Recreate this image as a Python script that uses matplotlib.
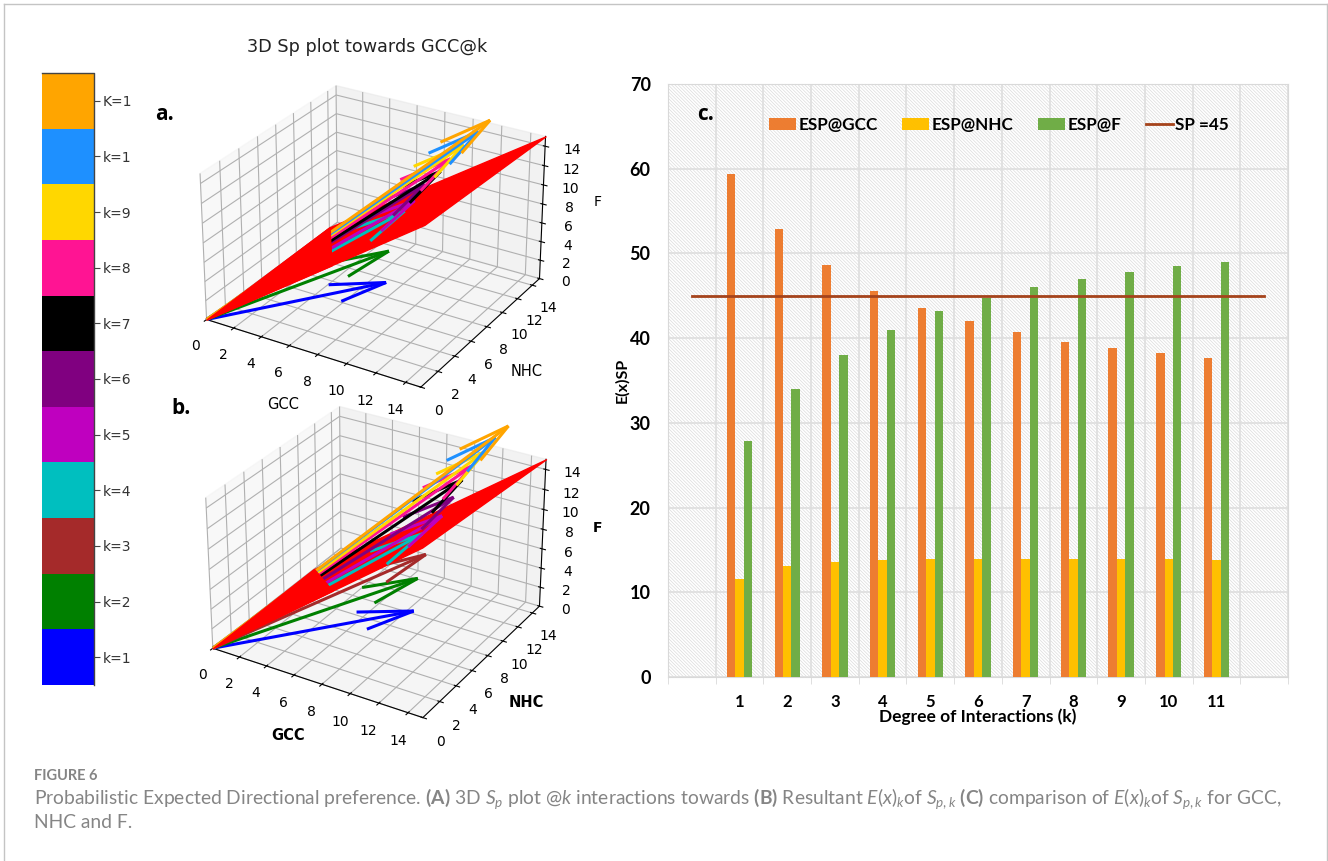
import numpy as np
import matplotlib
matplotlib.use('Agg')
import matplotlib.pyplot as plt
from matplotlib.colors import ListedColormap, BoundaryNorm
from matplotlib.cm import ScalarMappable
from matplotlib.lines import Line2D
from matplotlib.patches import Rectangle
from mpl_toolkits.mplot3d import art3d

W, H = 1328, 861

k_labels = ['k=1', 'k=2', 'k=3', 'k=4', 'k=5', 'k=6', 'k=7', 'k=8', 'k=9', 'k=1', 'K=1']
k_colors = ['blue', 'green', 'brown', 'c', 'm', 'purple', 'black', 'deeppink', 'gold', 'dodgerblue', 'orange']

# panel a, arrow tips for k=1..11
gcc_a = [10.0, 9.0, 9.0, 9.2, 9.6, 10.0, 10.8, 11.2, 11.8, 12.5, 13.0]
nhc_a = [4.5, 6.5, 7.5, 8.0, 8.5, 9.0, 9.5, 10.0, 10.5, 11.0, 11.5]
f_a = [5.0, 6.4, 9.0, 9.6, 10.5, 12.0, 13.3, 14.4, 15.7, 17.0, 18.0]
plane_a = [(0, 0, 0), (12, 5.5, 11), (15, 15, 15), (3.2, 9.0, 4.8)]
near_a = [(0, 0, 0), (7, 3.2, 6.4), (3.2, 9.0, 4.8)]

# panel b
gcc_b = [11.1, 10.1, 10.2, 9.7, 10.8, 11.3, 11.6, 12.0, 12.6, 13.0, 13.6]
nhc_b = [5.6, 7.8, 8.6, 9.0, 9.5, 10.0, 10.5, 11.0, 11.5, 12.0, 12.5]
f_b = [4.6, 5.9, 7.8, 9.4, 11.3, 13.0, 14.5, 15.7, 17.0, 18.2, 19.2]
plane_b = [(0, 0, 0), (11.7, 5.5, 11.2), (15, 15, 15), (2.3, 8.1, 3.4)]
near_b = [(0, 0, 0), (6.8, 3.2, 6.5), (2.3, 8.1, 3.4)]

# panel c
degree = [1, 2, 3, 4, 5, 6, 7, 8, 9, 10, 11]
esp_gcc = [59.4, 52.9, 48.6, 45.6, 43.5, 42.0, 40.7, 39.6, 38.8, 38.2, 37.6]
esp_nhc = [11.6, 13.1, 13.6, 13.8, 13.9, 13.9, 13.9, 13.9, 13.9, 13.9, 13.8]
esp_f = [27.9, 34.0, 38.0, 41.0, 43.2, 44.7, 46.0, 47.0, 47.8, 48.5, 49.0]
sp_x = list(range(13))
sp_line = [45] * 13


def rect(x0, y0, x1, y1):
    # pixel box to figure fractions, y from the top
    return [x0 / W, 1 - y1 / H, (x1 - x0) / W, (y1 - y0) / H]


def arrows(ax, gcc, nhc, f, idx, z):
    for i in idx:
        # same head size on every arrow
        ratio = 3.5 / np.sqrt(gcc[i] ** 2 + nhc[i] ** 2 + f[i] ** 2)
        ax.quiver(0, 0, 0, gcc[i], nhc[i], f[i], color=k_colors[i], linewidth=2.2,
                  arrow_length_ratio=ratio, zorder=z + i)


def panel(box, gcc, nhc, f, plane, near, elev, azim, aspect, weight, order):
    ax = fig.add_axes(rect(*box), projection='3d')
    ax.set_box_aspect(aspect)
    ax.set_zorder(order)
    ax.patch.set_alpha(0)
    ax.computed_zorder = False
    ax.view_init(elev=elev, azim=azim)
    arrows(ax, gcc, nhc, f, [0, 1, 2], 1)
    ax.add_collection3d(art3d.Poly3DCollection([plane], facecolor='red', edgecolor='red', zorder=10))
    arrows(ax, gcc, nhc, f, range(3, 11), 20)
    ax.add_collection3d(art3d.Poly3DCollection([near], facecolor='red', edgecolor='red', zorder=40))
    ax.set_xlim(0, 15)
    ax.set_ylim(0, 15)
    ax.set_zlim(0, 15)
    ticks = np.arange(0, 15, 2)
    ax.set_xticks(ticks)
    ax.set_yticks(ticks)
    ax.set_zticks(ticks)
    ax.tick_params(axis='x', pad=3)
    ax.tick_params(axis='y', pad=3)
    ax.set_xlabel('GCC', fontweight=weight, fontsize=10.5, labelpad=7)
    ax.set_ylabel('NHC', fontweight=weight, fontsize=10.5, labelpad=7)
    ax.zaxis.set_rotate_label(False)
    ax.set_zlabel('F', fontweight=weight, rotation=0, labelpad=3)
    return ax


fig = plt.figure(figsize=(W / 100, H / 100), dpi=100)

# page frame
fig.add_artist(Line2D([4 / W, 4 / W], [0, 1 - 4 / H], color='#c4c4c4', lw=1))
fig.add_artist(Line2D([4 / W, 1], [1 - 4 / H, 1 - 4 / H], color='#c4c4c4', lw=1))
fig.add_artist(Line2D([1327 / W, 1327 / W], [0, 1 - 4 / H], color='#c4c4c4', lw=1))

# colour strip
cax = fig.add_axes(rect(42, 73, 94, 685))
bounds = np.arange(12)
cmap = ListedColormap(k_colors)
cb = fig.colorbar(ScalarMappable(norm=BoundaryNorm(bounds, 11), cmap=cmap), cax=cax, ticks=bounds[:-1] + 0.5)
cb.set_ticklabels(k_labels)
cb.ax.tick_params(labelsize=10, length=4, pad=2, labelcolor='#333333', color='#444444')
cb.ax.minorticks_off()
cb.outline.set_visible(False)
fig.add_artist(Line2D([42 / W, 94 / W, 94 / W], [1 - 73 / H, 1 - 73 / H, 1 - 685 / H], color='#444444', lw=1))

# 3D panels
panel((184, 46, 558, 420), gcc_a, nhc_a, f_a, plane_a, near_a, 27.5, -59, (4, 4, 2.63), 'normal', 2)
panel((188, 373, 560, 745), gcc_b, nhc_b, f_b, plane_b, near_b, 29, -59, (4, 4, 2.8), 'bold', 1)

fig.text(367 / W, 1 - 47 / H, '3D Sp plot towards GCC@k', ha='center', va='center', fontsize=12.7, color='#222222')
fig.text(155 / W, 1 - 114 / H, 'a.', fontsize=15, fontweight='bold', family='Open Sans', va='center')
fig.text(171 / W, 1 - 408 / H, 'b.', fontsize=15, fontweight='bold', family='Open Sans', va='center')

# panel c
plt.rcParams['hatch.linewidth'] = 0.5
ax = fig.add_axes(rect(668, 84, 1288, 677))
ax.add_patch(Rectangle((0, 0), 1, 1, transform=ax.transAxes, facecolor='white', edgecolor='#dcdcdc',
                       hatch='\\' * 10, lw=0, zorder=0))
x = np.array(degree)
bw = 0.177
b1 = ax.bar(x - bw, esp_gcc, bw, color='#ED7D31', zorder=3, label='ESP@GCC')
b2 = ax.bar(x, esp_nhc, bw, color='#FFC000', zorder=3, label='ESP@NHC')
b3 = ax.bar(x + bw, esp_f, bw, color='#70AD47', zorder=3, label='ESP@F')
l1, = ax.plot(sp_x, sp_line, color='#A5431B', lw=2, zorder=4, label='SP =45')
ax.set_xlim(-0.5, 12.5)
ax.set_ylim(0, 70)
ax.set_xticks(degree)
ax.set_xticklabels([str(d) for d in degree], fontsize=12, fontweight='bold', family='Lato')
ax.set_xticks(np.arange(-0.5, 13), minor=True)
ax.set_yticks(range(0, 71, 10))
ax.set_yticklabels([str(v) for v in range(0, 71, 10)], fontsize=13, fontweight='bold', family='Lato')
ax.tick_params(axis='x', which='major', length=0, pad=12)
ax.tick_params(axis='x', which='minor', length=5, color='#d9d9d9')
ax.tick_params(axis='y', length=0, pad=12.5)
ax.grid(True, which='minor', axis='x', color='#dedede', lw=1.2, zorder=1)
ax.grid(True, which='major', axis='y', color='#dedede', lw=1.2, zorder=1)
ax.set_axisbelow(True)
for s in ax.spines.values():
    s.set_color('#d9d9d9')
ax.set_xlabel('Degree of Interactions (k)', fontsize=12.5, fontweight='bold', family='Lato', labelpad=-1)
ax.set_ylabel('E(x)SP', fontsize=11.5, fontweight='bold', family='Lato', labelpad=0.5)
ax.legend(handles=[b1, b2, b3, l1], ncol=4, frameon=False, loc='center left', bbox_to_anchor=(0.163, 0.931),
          borderpad=0, borderaxespad=0, handlelength=1.56, handletextpad=0.15, columnspacing=1.45,
          prop={'family': 'Lato', 'weight': 'bold', 'size': 12.3})
ax.text(0.047, 0.948, 'c.', transform=ax.transAxes, fontsize=15, fontweight='bold', family='Open Sans', va='center')

# caption
plt.rcParams['mathtext.fontset'] = 'custom'
plt.rcParams['mathtext.rm'] = 'Lato'
plt.rcParams['mathtext.it'] = 'Lato:italic'
plt.rcParams['mathtext.bf'] = 'Lato:bold'
grey = '#858585'
fig.text(34 / W, 1 - 776 / H, 'FIGURE 6', fontsize=10.5, color=grey, family='Lato', va='center', fontweight='bold')
fig.text(34 / W, 1 - 799 / H,
         r'Probabilistic Expected Directional preference. $\mathbf{(A)}$ 3D $S_p$ plot @$k$ interactions towards '
         r'$\mathbf{(B)}$ Resultant $E(x)_k$of $S_{p,k}$ $\mathbf{(C)}$ comparison of $E(x)_k$of $S_{p,k}$ for GCC,',
         fontsize=13.9, color=grey, family='Lato', va='center')
fig.text(34 / W, 1 - 822 / H, 'NHC and F.', fontsize=13.9, color=grey, family='Lato', va='center')

fig.savefig('out.png', dpi=100)
